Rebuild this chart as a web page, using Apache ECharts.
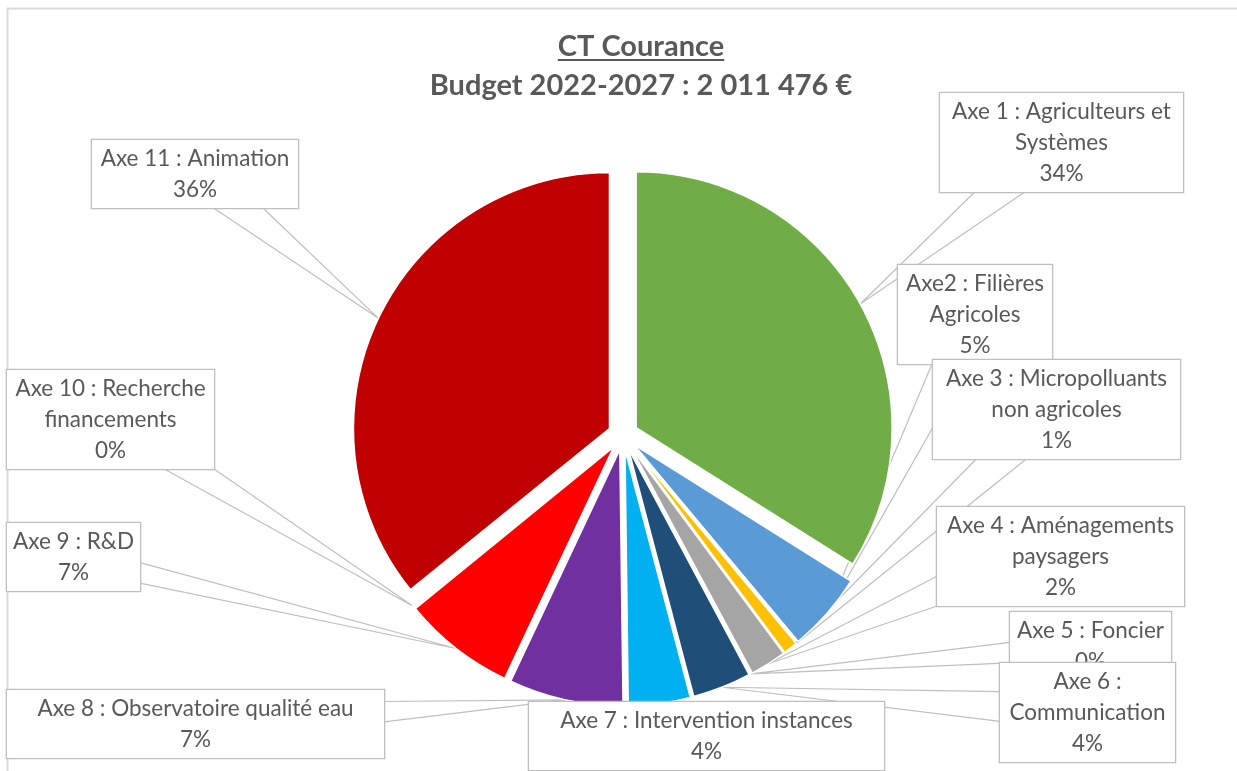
<!DOCTYPE html>
<html>
<head>
<meta charset="utf-8">
<script src="https://cdn.jsdelivr.net/npm/echarts@6/dist/echarts.min.js"></script>
<style>
html, body { margin: 0; padding: 0; background: #fff; }
#main { width: 1237px; height: 771px; }
</style>
</head>
<body>
<div id="main"></div>
<script>
// categories (line breaks as in the chart), shares in % of the budget
var categories = [
    'Axe 1 : Agriculteurs et\nSystèmes',
    'Axe2 : Filières\nAgricoles',
    'Axe 3 : Micropolluants\nnon agricoles',
    'Axe 4 : Aménagements\npaysagers',
    'Axe 5 : Foncier',
    'Axe 6 :\nCommunication',
    'Axe 7 : Intervention instances',
    'Axe 8 : Observatoire qualité eau',
    'Axe 9 : R&D',
    'Axe 10 : Recherche\nfinancements',
    'Axe 11 : Animation'
];
var shares = [33.9, 5.0, 0.9, 2.3, 0.05, 3.7, 3.9, 7.2, 7.1, 0.05, 35.8];
var colors = ['#70ad47', '#5b9bd5', '#ffc000', '#a5a5a5', '#4472c4', '#1f4e79',
    '#00b0f0', '#7030a0', '#ff0000', '#ed7d31', '#c00000'];
var titleLines = ['CT Courance', 'Budget 2022-2027 : 2 011 476 €'];

// label boxes: [left, top, width]
var boxes = [
    [940, 93, 243], [898, 265, 154], [933, 360, 247], [937, 507, 247],
    [1010, 612, 161], [1000, 663, 175], [529, 702, 355], [7, 690, 377],
    [7, 523, 133], [7, 370, 207], [92, 140, 206]
];

var CX = 623, CY = 435, R = 256, EXPLODE = 15;
var LINE_H = 31, PAD = 3;
var FONT = 'Lato, "Open Sans", sans-serif';

var chart = echarts.init(document.getElementById('main'));

var total = 0;
shares.forEach(function (v) { total += v; });

// every slice is pulled out along its own bisector, like the exploded excel pie
var mids = [];
var acc = 0;
shares.forEach(function (v) {
    mids.push((acc + v / 2) / total * 2 * Math.PI);
    acc += v;
});

function boxHeight(i) {
    var text = categories[i] + '\nx';
    return text.split('\n').length * LINE_H + PAD * 2;
}

function callout(i, c) {
    var b = boxes[i];
    var h = boxHeight(i);
    var bx = b[0] + b[2] / 2, by = b[1] + h / 2;
    var tip = [c[0] + R * Math.sin(mids[i]), c[1] - R * Math.cos(mids[i])];
    var dx = tip[0] - bx, dy = tip[1] - by;
    var sx = dx === 0 ? Infinity : (b[2] / 2) / Math.abs(dx);
    var sy = dy === 0 ? Infinity : (h / 2) / Math.abs(dy);
    var hw, p;
    if (sy < sx) {
        hw = Math.min(25, b[2] * 0.12);
        p = bx + dx * sy;
        p = Math.max(b[0] + hw, Math.min(b[0] + b[2] - hw, p));
        var ey = dy > 0 ? b[1] + h : b[1];
        return [[p - hw, ey], tip, [p + hw, ey]];
    }
    hw = Math.min(25, h * 0.15);
    p = by + dy * sx;
    p = Math.max(b[1] + hw, Math.min(b[1] + h - hw, p));
    var ex = dx > 0 ? b[0] + b[2] : b[0];
    return [[ex, p - hw], tip, [ex, p + hw]];
}

var series = shares.map(function (val, i) {
    var c = [CX + EXPLODE * Math.sin(mids[i]), CY - EXPLODE * Math.cos(mids[i])];
    return {
        type: 'pie',
        center: c,
        radius: R,
        startAngle: 90,
        clockwise: true,
        silent: true,
        animation: false,
        avoidLabelOverlap: false,
        minShowLabelAngle: 0,
        data: shares.map(function (v, j) {
            var mine = j === i;
            return {
                name: categories[j],
                value: v,
                itemStyle: mine
                    ? { color: colors[j], borderColor: '#fff', borderWidth: 1.5 }
                    : { color: 'rgba(0,0,0,0)', borderWidth: 0 },
                label: { show: mine, width: boxes[j][2] },
                labelLine: { show: mine }
            };
        }),
        label: {
            position: 'outside',
            formatter: function (p) {
                return p.name + '\n' + Math.round(p.percent) + '%';
            },
            color: '#595959',
            fontFamily: FONT,
            fontSize: 22.5,
            lineHeight: LINE_H,
            align: 'center',
            backgroundColor: '#fff',
            borderColor: '#bfbfbf',
            borderWidth: 1.3,
            padding: [PAD + 2, 0, PAD - 2, 0]
        },
        labelLine: {
            lineStyle: { color: '#bfbfbf', width: 1.2 }
        },
        labelLayout: function (p) {
            var b = boxes[p.dataIndex];
            return {
                x: b[0] + b[2] / 2,
                y: b[1] + boxHeight(p.dataIndex) / 2,
                align: 'center',
                verticalAlign: 'middle',
                labelLinePoints: callout(p.dataIndex, c)
            };
        }
    };
});

var TITLE_SIZE = 29;
var ctx = document.createElement('canvas').getContext('2d');
ctx.font = 'bold ' + TITLE_SIZE + 'px ' + FONT;
var ulW = ctx.measureText(titleLines[0]).width;
var TX = 641;

chart.setOption({
    backgroundColor: '#fff',
    title: {
        text: titleLines.join('\n'),
        left: TX,
        top: 27,
        padding: 0,
        textAlign: 'center',
        textStyle: {
            color: '#595959',
            fontFamily: FONT,
            fontWeight: 'bold',
            fontSize: TITLE_SIZE,
            lineHeight: 39
        }
    },
    graphic: [
        {
            type: 'polyline',
            silent: true,
            shape: { points: [[1237, 8.5], [7.5, 8.5], [7.5, 771]] },
            style: { stroke: '#d9d9d9', lineWidth: 2, fill: null }
        },
        {
            type: 'line',
            silent: true,
            shape: { x1: TX - ulW / 2, y1: 60, x2: TX + ulW / 2, y2: 60 },
            style: { stroke: '#595959', lineWidth: 1.8 }
        }
    ],
    series: series
});
</script>
</body>
</html>
